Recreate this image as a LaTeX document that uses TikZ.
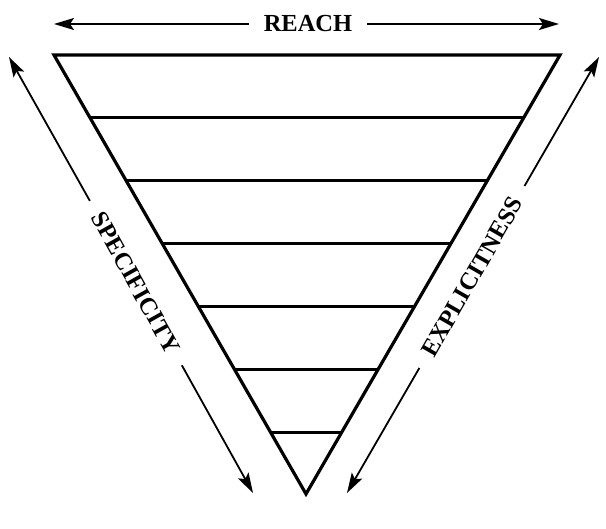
\documentclass[tikz,border=0pt]{standalone}
\usepackage{fontspec}
\setmainfont{Liberation Serif}
\usetikzlibrary{arrows.meta,calc}
\begin{document}
\begin{tikzpicture}[x=1pt,y=-1pt,
  tri/.style={line width=3.2pt,line join=miter},
  band/.style={line width=3pt},
  arr/.style={line width=1.8pt,-{Stealth[length=20pt,width=12pt,inset=4pt]}},
  lbl/.style={font=\fontsize{24.5}{29}\selectfont\bfseries,inner xsep=15pt,inner ysep=2pt}]
\useasboundingbox (0,0) rectangle (606,529);
\coordinate (TL) at (54,55);
\coordinate (TR) at (560,55);
\coordinate (B) at (306,494);
\draw[tri] (TL) -- (TR) -- (B) -- cycle;
\foreach \k in {1,...,6}{
  \draw[band] ($(TL)!\k*63/439!(B)$) -- ($(TR)!\k*63/439!(B)$);
}
% REACH
\coordinate (RL) at (54,24);
\coordinate (RR) at (559,24);
\node[lbl] (reach) at (308,24) {REACH};
\draw[arr] (reach) -- (RL);
\draw[arr] (reach) -- (RR);
% SPECIFICITY
\coordinate (SA) at (9,57);
\coordinate (SB) at (253,493);
\node[lbl,rotate=-60.87] (spec) at (136,283) {SPECIFICITY};
\draw[arr] (spec) -- (SA);
\draw[arr] (spec) -- (SB);
% EXPLICITNESS
\coordinate (EA) at (347,493);
\coordinate (EB) at (599,57);
\node[lbl,rotate=60.17] (expl) at (472,277) {EXPLICITNESS};
\draw[arr] (expl) -- (EA);
\draw[arr] (expl) -- (EB);
\end{tikzpicture}
\end{document}
